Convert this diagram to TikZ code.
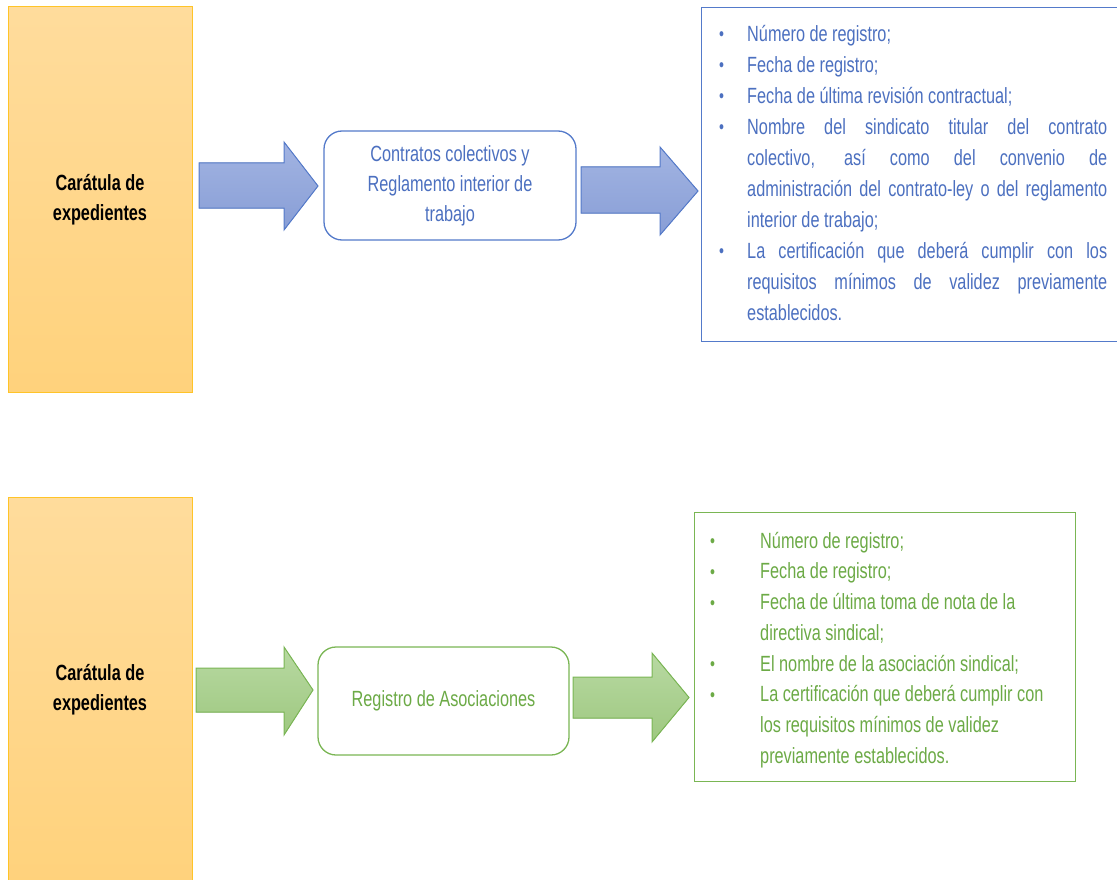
\documentclass[tikz,border=0pt]{standalone}
\usepackage{fontspec}
\setmainfont{Liberation Sans}[FakeStretch=0.74]
\definecolor{bluetxt}{RGB}{76,112,192}
\definecolor{blueln}{RGB}{84,122,202}
\definecolor{bluetop}{RGB}{162,180,226}
\definecolor{bluebot}{RGB}{136,158,214}
\definecolor{greentxt}{RGB}{108,170,70}
\definecolor{greenln}{RGB}{122,182,84}
\definecolor{greentop}{RGB}{184,217,162}
\definecolor{greenbot}{RGB}{158,200,128}
\definecolor{yeltop}{RGB}{255,220,156}
\definecolor{yelbot}{RGB}{255,210,124}
\definecolor{yelln}{RGB}{255,196,40}
\newcommand\bul{{\fontsize{19}{19}\selectfont\raisebox{0.5pt}{•}}}
\tikzset{
  caratula/.style={draw=yelln, line width=1pt, top color=yeltop, bottom color=yelbot,
    minimum width=184pt, align=center, font=\fontsize{22}{30}\selectfont\bfseries, text=black},
  rbox/.style={draw=#1, line width=1.3pt, fill=white, rounded corners=18pt, align=center},
  listbox/.style={draw=#1, line width=1.3pt, fill=white, anchor=north west, inner sep=0pt},
  listtxt/.style={anchor=north west, inner sep=0pt, align=left},
  bluearrow/.style={draw=blueln, line width=1pt, top color=bluetop, bottom color=bluebot},
  greenarrow/.style={draw=greenln, line width=1pt, top color=greentop, bottom color=greenbot}
}
\begin{document}
\begin{tikzpicture}[x=1pt,y=-1pt,font=\fontsize{22}{30}\selectfont]
\useasboundingbox (0,0) rectangle (1117,880);
\clip (0,0) rectangle (1117,880);

% ---------- top row ----------
\node[caratula, minimum height=385pt] (c1) at (100,199.5) {Carátula de\\expedientes};
\filldraw[bluearrow] (199,163) -- (284,163) -- (284,142) -- (318,186) -- (284,230) -- (284,208) -- (199,208) -- cycle;
\node[rbox=blueln, minimum width=252pt, minimum height=109pt, text=bluetxt] (r1) at (450,185.5)
  {Contratos colectivos y\\Reglamento interior de\\trabajo};
\filldraw[bluearrow] (581,167) -- (660,167) -- (660,147) -- (698,191) -- (660,235) -- (660,213) -- (581,213) -- cycle;
\node[listbox=blueln, minimum width=440pt, minimum height=334pt] (l1) at (701,7) {};
\node[listtxt, text=bluetxt, font=\fontsize{22}{31}\selectfont] (t1) at (719,21)
  {\makebox[28pt][l]{\bul}\rule{0pt}{20pt}Número de registro;\\
   \makebox[28pt][l]{\bul}Fecha de registro;\\
   \makebox[28pt][l]{\bul}Fecha de última revisión contractual;\\
   \makebox[28pt][l]{\bul}\makebox[360pt][s]{Nombre del sindicato titular del contrato}\\
   \hspace*{28pt}\makebox[360pt][s]{colectivo, así como del convenio de}\\
   \hspace*{28pt}\makebox[360pt][s]{administración del contrato-ley o del reglamento}\\
   \hspace*{28pt}interior de trabajo;\\
   \makebox[28pt][l]{\bul}\makebox[360pt][s]{La certificación que deberá cumplir con los}\\
   \hspace*{28pt}\makebox[360pt][s]{requisitos mínimos de validez previamente}\\
   \hspace*{28pt}establecidos.};

% ---------- bottom row ----------
\node[caratula, minimum height=386pt] (c2) at (100,690) {Carátula de\\expedientes};
\filldraw[greenarrow] (196,668) -- (284,668) -- (284,647) -- (313,690) -- (284,735) -- (284,712) -- (196,712) -- cycle;
\node[rbox=greenln, minimum width=251pt, minimum height=108pt, text=greentxt] (r2) at (443.5,701)
  {Registro de Asociaciones};
\filldraw[greenarrow] (573,677) -- (652,677) -- (652,653) -- (689,697.5) -- (652,742) -- (652,718) -- (573,718) -- cycle;
\node[listbox=greenln, minimum width=381pt, minimum height=269pt] (l2) at (694,512) {};
\node[listtxt, text=greentxt, font=\fontsize{22}{30.7}\selectfont] (t2) at (710,528)
  {\makebox[50pt][l]{\bul}\rule{0pt}{20pt}Número de registro;\\
   \makebox[50pt][l]{\bul}Fecha de registro;\\
   \makebox[50pt][l]{\bul}Fecha de última toma de nota de la\\
   \hspace*{50pt}directiva sindical;\\
   \makebox[50pt][l]{\bul}El nombre de la asociación sindical;\\
   \makebox[50pt][l]{\bul}La certificación que deberá cumplir con\\
   \hspace*{50pt}los requisitos mínimos de validez\\
   \hspace*{50pt}previamente establecidos.};
\end{tikzpicture}
\end{document}
